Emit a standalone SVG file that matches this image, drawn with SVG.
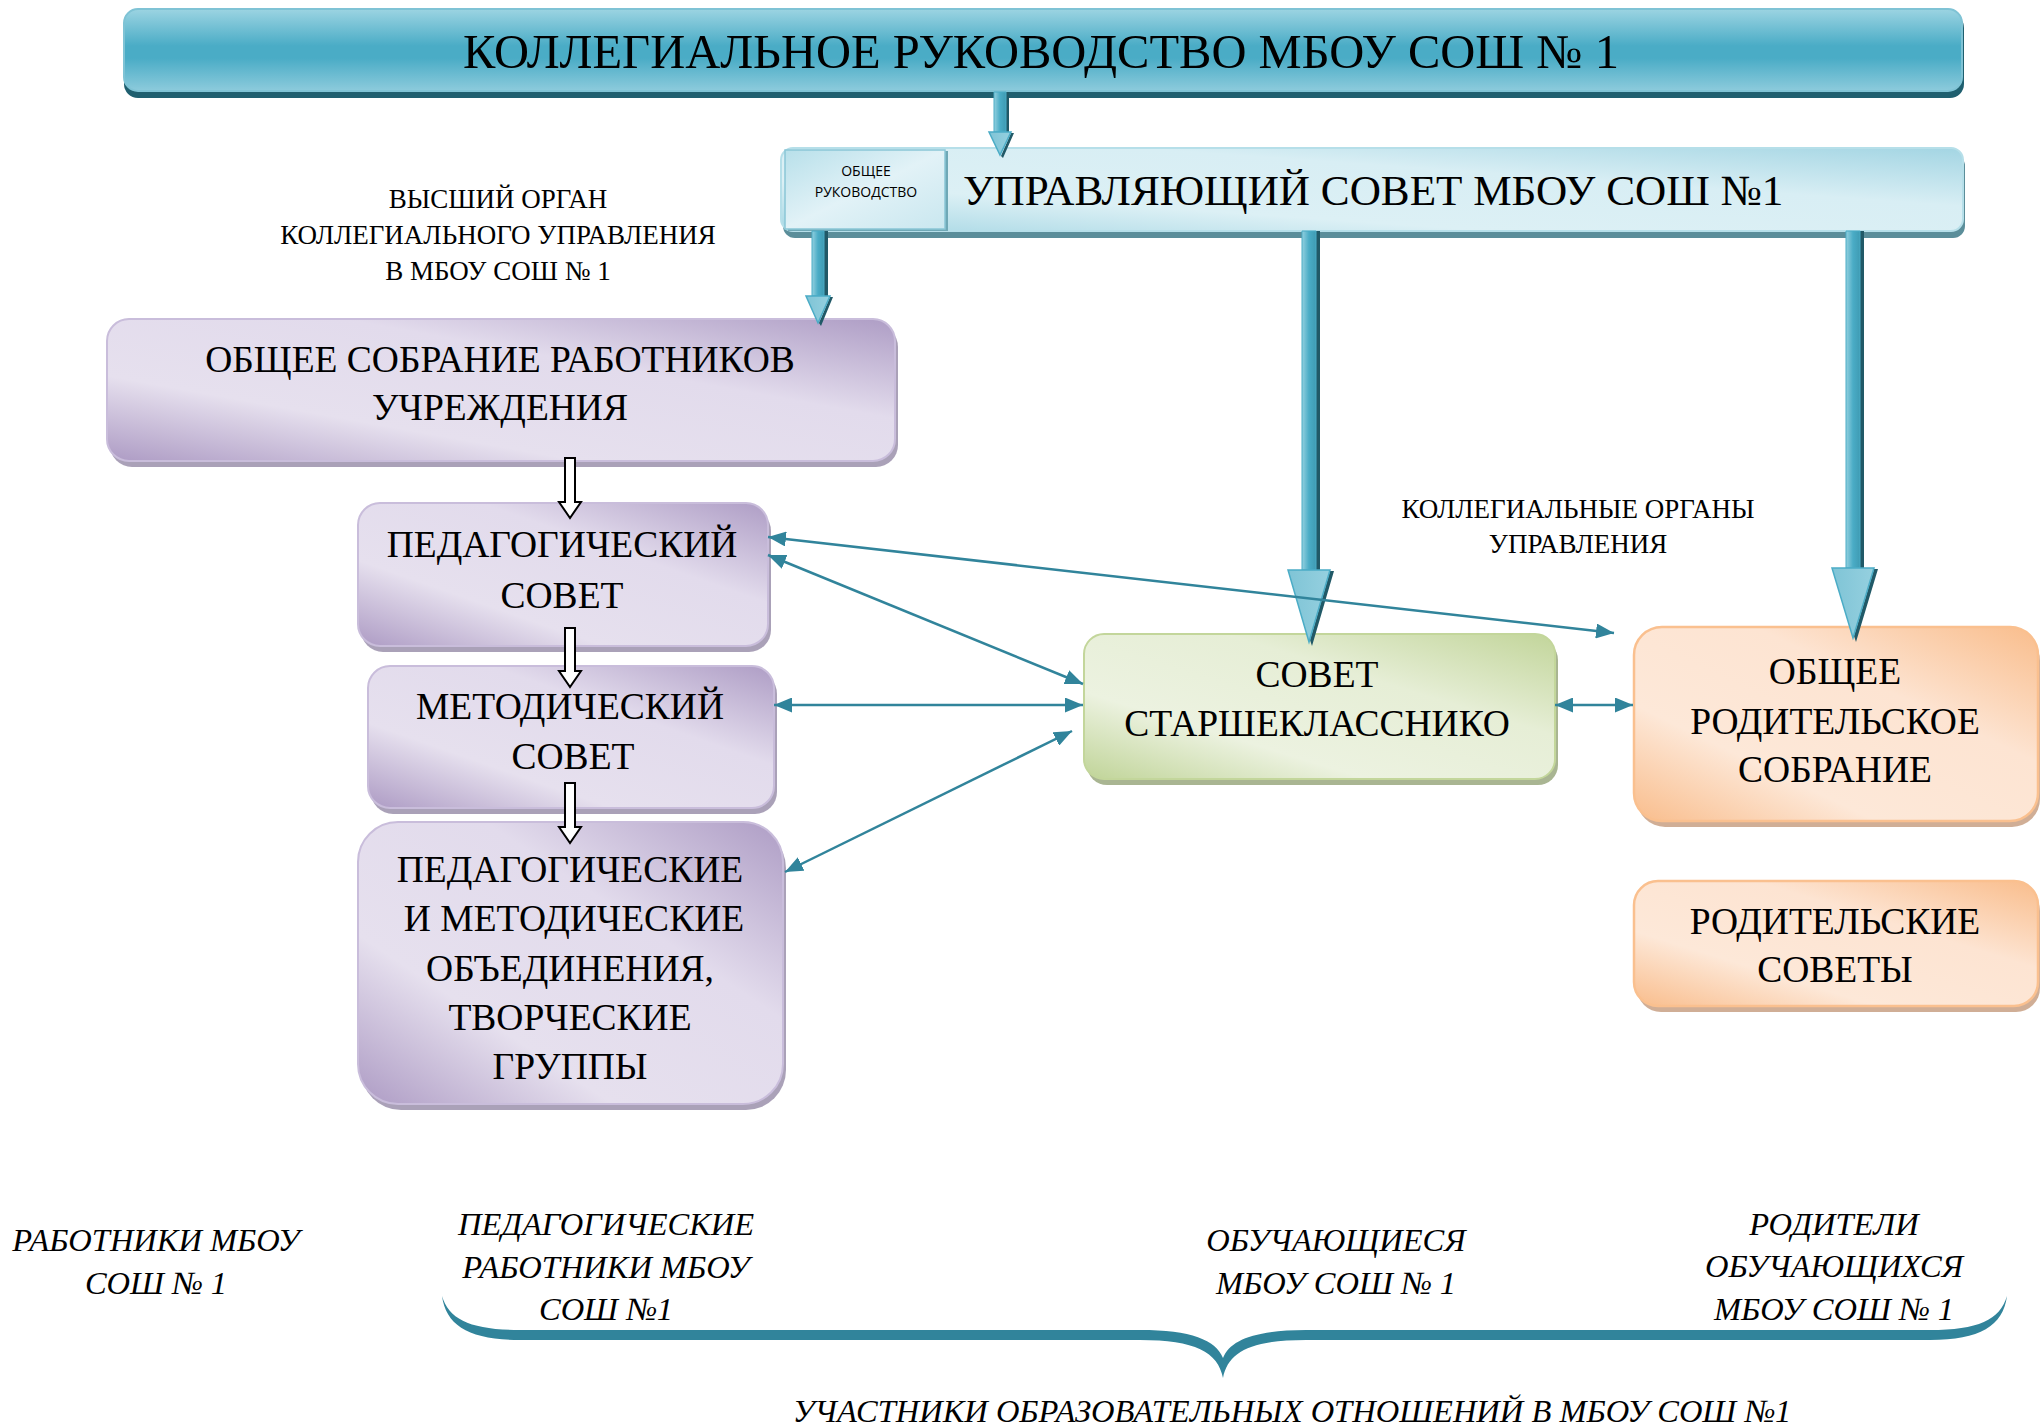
<svg xmlns="http://www.w3.org/2000/svg" width="2040" height="1426" viewBox="0 0 2040 1426">
<defs>
<style>
.t{font-family:"Liberation Serif","Times New Roman",serif;fill:#000;text-anchor:middle}
.b{font-size:37.5px}
.s{font-size:27px}
.i{font-size:32.5px;font-style:italic}
.thin{stroke:#31849b;stroke-width:2.5;fill:none;marker-start:url(#ah);marker-end:url(#ah)}
.hollow{fill:#fff;stroke:#000;stroke-width:2}
.tk{fill:url(#gShaft);stroke:#4bacc6;stroke-width:1}
.tkh{fill:url(#gHead);stroke:#4bacc6;stroke-width:1.5}
.tks{fill:#215967}
</style>
<marker id="ah" markerUnits="userSpaceOnUse" markerWidth="18" markerHeight="15" refX="18" refY="7.5" orient="auto-start-reverse" viewBox="0 0 18 15">
<path d="M0,0 L18,7.5 L0,15 Z" fill="#31849b"/>
</marker>
<linearGradient id="gBanner" x1="0" y1="0" x2="0" y2="1">
<stop offset="0" stop-color="#9cd4e2"/>
<stop offset="0.45" stop-color="#4aacc6"/>
<stop offset="0.6" stop-color="#4aacc6"/>
<stop offset="1" stop-color="#8dcbdc"/>
</linearGradient>
<linearGradient id="gCyan" x1="0" y1="1" x2="1" y2="0">
<stop offset="0" stop-color="#a6d7e4"/>
<stop offset="0.3" stop-color="#dcf0f5"/>
<stop offset="0.65" stop-color="#d8eef4"/>
<stop offset="1" stop-color="#a3d5e3"/>
</linearGradient>
<linearGradient id="gCyanBox" x1="0" y1="0" x2="1" y2="1">
<stop offset="0" stop-color="#b8e0ea"/>
<stop offset="0.5" stop-color="#e2f2f7"/>
<stop offset="1" stop-color="#c9e7ef"/>
</linearGradient>
<linearGradient id="gPurple" x1="0" y1="1" x2="1" y2="0">
<stop offset="0" stop-color="#ad9bc4"/>
<stop offset="0.3" stop-color="#e6e0ee"/>
<stop offset="0.65" stop-color="#e2dbec"/>
<stop offset="1" stop-color="#ae9dc5"/>
</linearGradient>
<linearGradient id="gGreen" x1="0" y1="1" x2="1" y2="0">
<stop offset="0" stop-color="#c0d498"/>
<stop offset="0.3" stop-color="#ecf2e0"/>
<stop offset="0.65" stop-color="#e6eed6"/>
<stop offset="1" stop-color="#c2d59a"/>
</linearGradient>
<linearGradient id="gOrange" x1="0" y1="1" x2="1" y2="0">
<stop offset="0" stop-color="#f9bd8c"/>
<stop offset="0.3" stop-color="#fde8d8"/>
<stop offset="0.65" stop-color="#fde4d2"/>
<stop offset="1" stop-color="#f9bd8c"/>
</linearGradient>
<linearGradient id="gShaft" x1="0" y1="0" x2="1" y2="0">
<stop offset="0" stop-color="#93d0df"/>
<stop offset="0.5" stop-color="#4aacc6"/>
<stop offset="1" stop-color="#3f9bb3"/>
</linearGradient>
<linearGradient id="gHead" x1="0" y1="0" x2="1" y2="0">
<stop offset="0" stop-color="#7fc4d6"/>
<stop offset="1" stop-color="#95d0df"/>
</linearGradient>
</defs>

<rect width="2040" height="1426" fill="#fff"/>

<g id="banner">
<rect x="124" y="14" width="1840" height="84" rx="14" fill="#1f5f6f"/>
<rect x="124" y="9" width="1838" height="82" rx="14" fill="url(#gBanner)" stroke="#7fc3d5" stroke-width="2"/>
<text class="t" x="1041" y="68" font-size="48.5">КОЛЛЕГИАЛЬНОЕ РУКОВОДСТВО МБОУ СОШ № 1</text>
</g>

<g id="upr-sovet">
<rect x="783" y="154" width="1182" height="84" rx="12" fill="#5b8e9a"/>
<rect x="781" y="148" width="1182" height="83" rx="12" fill="url(#gCyan)" stroke="#b6dfe9" stroke-width="2"/>
<rect x="788" y="151" width="160" height="80" fill="#6fa8b6"/>
<rect x="785" y="150" width="160" height="79" fill="url(#gCyanBox)" stroke="#8ac6d6" stroke-width="1.5"/>
<text x="866" y="176" font-family="'Open Sans','Liberation Sans',sans-serif" font-size="14" text-anchor="middle" fill="#000">ОБЩЕЕ</text>
<text x="866" y="197" font-family="'Open Sans','Liberation Sans',sans-serif" font-size="14" text-anchor="middle" fill="#000">РУКОВОДСТВО</text>
<text class="t" x="963" y="205" font-size="43.2" style="text-anchor:start">УПРАВЛЯЮЩИЙ СОВЕТ МБОУ СОШ №1</text>
</g>

<g id="label-vysshiy">
<text class="t s" x="498" y="208">ВЫСШИЙ ОРГАН</text>
<text class="t s" x="498" y="244">КОЛЛЕГИАЛЬНОГО УПРАВЛЕНИЯ</text>
<text class="t s" x="498" y="280">В МБОУ СОШ № 1</text>
</g>

<g id="label-kollegialnye">
<text class="t s" x="1578" y="518">КОЛЛЕГИАЛЬНЫЕ ОРГАНЫ</text>
<text class="t s" x="1578" y="553">УПРАВЛЕНИЯ</text>
</g>

<g id="obshee-sobranie">
<rect x="110" y="325" width="788" height="142" rx="22" fill="#8e82a0" opacity="0.75"/>
<rect x="107" y="319" width="788" height="142" rx="22" fill="url(#gPurple)" stroke="#c9bddb" stroke-width="2"/>
<text class="t b" x="500" y="372">ОБЩЕЕ СОБРАНИЕ РАБОТНИКОВ</text>
<text class="t b" x="500" y="420">УЧРЕЖДЕНИЯ</text>
</g>

<g id="ped-sovet">
<rect x="361" y="509" width="410" height="143" rx="22" fill="#8e82a0" opacity="0.75"/>
<rect x="358" y="503" width="410" height="143" rx="22" fill="url(#gPurple)" stroke="#c9bddb" stroke-width="2"/>
<text class="t b" x="562" y="557">ПЕДАГОГИЧЕСКИЙ</text>
<text class="t b" x="562" y="608">СОВЕТ</text>
</g>

<g id="met-sovet">
<rect x="371" y="672" width="406" height="142" rx="22" fill="#8e82a0" opacity="0.75"/>
<rect x="368" y="666" width="406" height="142" rx="22" fill="url(#gPurple)" stroke="#c9bddb" stroke-width="2"/>
<text class="t b" x="570" y="719">МЕТОДИЧЕСКИЙ</text>
<text class="t b" x="573" y="769">СОВЕТ</text>
</g>

<g id="ped-met-obyed">
<rect x="361" y="828" width="425" height="282" rx="40" fill="#8e82a0" opacity="0.75"/>
<rect x="358" y="822" width="425" height="282" rx="40" fill="url(#gPurple)" stroke="#c9bddb" stroke-width="2"/>
<text class="t b" x="570" y="882">ПЕДАГОГИЧЕСКИЕ</text>
<text class="t b" x="574" y="931">И МЕТОДИЧЕСКИЕ</text>
<text class="t b" x="570" y="981">ОБЪЕДИНЕНИЯ,</text>
<text class="t b" x="570" y="1030">ТВОРЧЕСКИЕ</text>
<text class="t b" x="570" y="1079">ГРУППЫ</text>
</g>

<g id="sovet-starsh">
<rect x="1087" y="640" width="471" height="145" rx="20" fill="#93a377" opacity="0.8"/>
<rect x="1084" y="634" width="471" height="145" rx="20" fill="url(#gGreen)" stroke="#c3d69b" stroke-width="2"/>
<text class="t b" x="1317" y="687">СОВЕТ</text>
<text class="t b" x="1317" y="736">СТАРШЕКЛАССНИКО</text>
</g>

<g id="obshee-rod">
<rect x="1637" y="633" width="403" height="194" rx="28" fill="#c49a7c" opacity="0.8"/>
<rect x="1634" y="627" width="404" height="194" rx="28" fill="url(#gOrange)" stroke="#fac08f" stroke-width="2.5"/>
<text class="t b" x="1835" y="684">ОБЩЕЕ</text>
<text class="t b" x="1835" y="734">РОДИТЕЛЬСКОЕ</text>
<text class="t b" x="1835" y="782">СОБРАНИЕ</text>
</g>

<g id="rod-sovety">
<rect x="1637" y="887" width="403" height="125" rx="24" fill="#c49a7c" opacity="0.8"/>
<rect x="1634" y="881" width="404" height="125" rx="24" fill="url(#gOrange)" stroke="#fac08f" stroke-width="2.5"/>
<text class="t b" x="1835" y="934">РОДИТЕЛЬСКИЕ</text>
<text class="t b" x="1835" y="982">СОВЕТЫ</text>
</g>

<g id="participants">
<text class="t i" x="156" y="1251">РАБОТНИКИ МБОУ</text>
<text class="t i" x="156" y="1294">СОШ № 1</text>
<text class="t i" x="606" y="1235">ПЕДАГОГИЧЕСКИЕ</text>
<text class="t i" x="606" y="1278">РАБОТНИКИ МБОУ</text>
<text class="t i" x="606" y="1320">СОШ №1</text>
<text class="t i" x="1336" y="1251">ОБУЧАЮЩИЕСЯ</text>
<text class="t i" x="1336" y="1294">МБОУ СОШ № 1</text>
<text class="t i" x="1834" y="1235">РОДИТЕЛИ</text>
<text class="t i" x="1834" y="1277">ОБУЧАЮЩИХСЯ</text>
<text class="t i" x="1834" y="1320">МБОУ СОШ № 1</text>
<text class="t i" x="1292" y="1422">УЧАСТНИКИ ОБРАЗОВАТЕЛЬНЫХ ОТНОШЕНИЙ В МБОУ СОШ №1</text>
</g>

<g id="connectors">
<g id="arrow-banner">
<polygon class="tks" points="1006,92 1009,92 1009,133 1014,133 1003,158 1001,156 1011,133 1006,133"/>
<polygon class="tk" points="994,92 1006,92 1006,132 994,132"/>
<polygon class="tkh" points="989,132 1011,132 1000,155"/>
</g>
<g id="arrow-obsobr">
<polygon class="tks" points="824,231 828,231 828,297 833,297 821,326 819,323 830,297 824,297"/>
<polygon class="tk" points="812,231 824,231 824,296 812,296"/>
<polygon class="tkh" points="806,296 830,296 818,323"/>
</g>
<g id="arrow-starsh">
<polygon class="tks" points="1316,231 1320,231 1320,571 1334,571 1312,646 1310,640 1330,571 1316,571"/>
<polygon class="tk" points="1302,231 1316,231 1316,570 1302,570"/>
<polygon class="tkh" points="1288,570 1330,570 1309,642"/>
</g>
<g id="arrow-rod">
<polygon class="tks" points="1860,231 1864,231 1864,569 1878,569 1856,642 1854,636 1874,569 1860,569"/>
<polygon class="tk" points="1846,231 1860,231 1860,568 1846,568"/>
<polygon class="tkh" points="1832,568 1874,568 1853,638"/>
</g>
<polygon class="hollow" points="565,458 575,458 575,502 581,502 570,518 559,502 565,502"/>
<polygon class="hollow" points="565,628 575,628 575,671 581,671 570,687 559,671 565,671"/>
<polygon class="hollow" points="565,783 575,783 575,827 581,827 570,843 559,827 565,827"/>
<line class="thin" x1="768" y1="537" x2="1614" y2="633"/>
<line class="thin" x1="768" y1="555" x2="1083" y2="684"/>
<line class="thin" x1="774" y1="705" x2="1083" y2="705"/>
<line class="thin" x1="785" y1="872" x2="1072" y2="731"/>
<line class="thin" x1="1555" y1="705" x2="1633" y2="705"/>
<path d="M442,1296 C446,1326 470,1340 520,1340 L1140,1340 C1195,1340 1218,1352 1223,1378 C1228,1352 1251,1340 1306,1340 L1930,1340 C1980,1340 2003,1326 2007,1296 C2000,1320 1978,1330 1930,1330 L1306,1330 C1255,1330 1230,1340 1223,1358 C1216,1340 1191,1330 1140,1330 L520,1330 C472,1330 449,1320 442,1296 Z" fill="#31849b"/>
</g>
</svg>
